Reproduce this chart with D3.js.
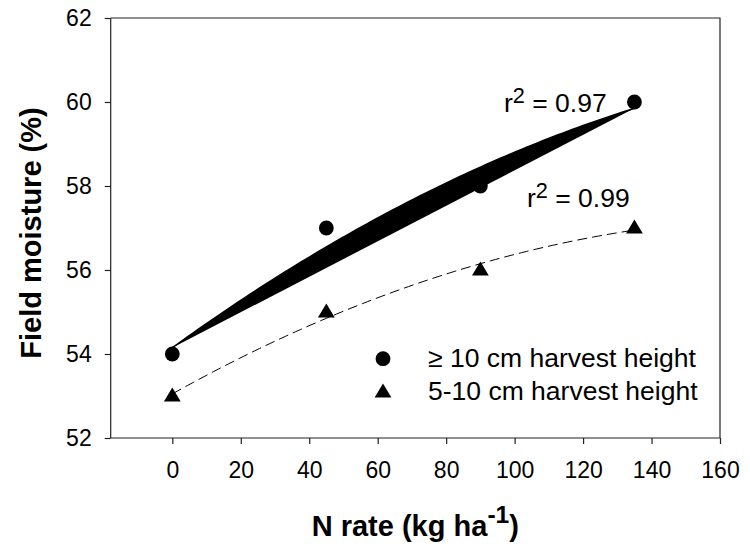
<!DOCTYPE html>
<html>
<head>
<meta charset="utf-8">
<script src="https://cdn.jsdelivr.net/npm/d3@7"></script>
<style>
  html, body { margin: 0; padding: 0; background: #fff; }
  svg { display: block; font-family: "Liberation Sans", Arial, Helvetica, sans-serif; }
</style>
</head>
<body>
<svg id="chart" width="750" height="548"></svg>
<script>
// N application rates (kg ha-1)
const nRate = [0, 45, 90, 135];
// Field moisture (%) for the two harvest heights
const moistureTall = [54, 57, 58, 60];   // >= 10 cm harvest height
const moistureShort = [53, 55, 56, 57];  // 5-10 cm harvest height
const seriesNames = ["10 cm harvest height", "5-10 cm harvest height"];
const r2Values = ["0.97", "0.99"];
const xTicks = [0, 20, 40, 60, 80, 100, 120, 140, 160];
const yTicks = [52, 54, 56, 58, 60, 62];

const svg = d3.select("#chart");
const plotL = 110.7, plotR = 720, plotT = 18, plotB = 438;

const x = d3.scaleLinear().domain([-18, 160]).range([plotL, plotR]);
const y = d3.scaleLinear().domain([52, 62]).range([plotB, plotT]);

// least-squares quadratic y = a + b x + c x^2
function quadFit(xs, ys) {
  const S = k => d3.sum(xs, v => Math.pow(v, k));
  const T = k => d3.sum(xs, (v, i) => Math.pow(v, k) * ys[i]);
  const M = [[S(0), S(1), S(2), T(0)], [S(1), S(2), S(3), T(1)], [S(2), S(3), S(4), T(2)]];
  for (let i = 0; i < 3; i++) {
    for (let j = i + 1; j < 3; j++) {
      const f = M[j][i] / M[i][i];
      for (let k = i; k < 4; k++) M[j][k] -= f * M[i][k];
    }
  }
  const c = M[2][3] / M[2][2];
  const b = (M[1][3] - M[1][2] * c) / M[1][1];
  const a = (M[0][3] - M[0][1] * b - M[0][2] * c) / M[0][0];
  return v => a + b * v + c * v * v;
}
const fitTall = quadFit(nRate, moistureTall);
const fitShort = quadFit(nRate, moistureShort);
const xs = d3.range(0, 135.01, 1.5);

// frame
svg.append("path").attr("d", `M${plotL},${plotT}H${plotR}V${plotB}`)
  .attr("stroke", "#222").attr("stroke-width", 1.2).attr("fill", "none");

// axes
const fontTick = 23;
const xAxis = svg.append("g").attr("transform", `translate(0,${plotB})`)
  .call(d3.axisBottom(x).tickValues(xTicks).tickSize(6).tickPadding(18).tickFormat(d3.format("d")));
const yAxis = svg.append("g").attr("transform", `translate(${plotL},0)`)
  .call(d3.axisLeft(y).tickValues(yTicks).tickSize(6).tickPadding(13).tickFormat(d3.format("d")));
[xAxis, yAxis].forEach(g => {
  g.select(".domain").attr("stroke", "#222").attr("stroke-width", 1.2);
  g.selectAll(".tick line").attr("stroke", "#222").attr("stroke-width", 1.2);
  g.selectAll(".tick text").attr("font-size", fontTick).attr("fill", "#000")
    .attr("font-family", "Liberation Sans, Arial, sans-serif");
});
xAxis.select(".domain").attr("d", `M${plotL},0H${plotR}`);
yAxis.select(".domain").attr("d", `M0,${plotT}V${plotB}`);

// fitted curve for the tall harvest height, drawn as a filled band
const lineGen = d3.line().x(d => x(d));
svg.append("path")
  .attr("d", lineGen.y(d => y(fitTall(d)))(xs))
  .attr("fill", "#000").attr("stroke", "#000").attr("stroke-width", 1.5);

// fitted curve for the short harvest height, dashed
svg.append("path")
  .attr("d", lineGen.y(d => y(fitShort(d)))(xs))
  .attr("fill", "none").attr("stroke", "#000").attr("stroke-width", 1)
  .attr("stroke-dasharray", "10,5");

// markers
const circleR = 7.4;
const triangle = (cx, cy) => {
  const w = 8.4, h = 14;
  return `M${cx},${cy - h * 0.6}L${cx + w},${cy + h * 0.4}L${cx - w},${cy + h * 0.4}Z`;
};
svg.append("g").selectAll("circle").data(nRate).join("circle")
  .attr("cx", d => x(d)).attr("cy", (d, i) => y(moistureTall[i])).attr("r", circleR).attr("fill", "#000");
svg.append("g").selectAll("path").data(nRate).join("path")
  .attr("d", (d, i) => triangle(x(d), y(moistureShort[i]))).attr("fill", "#000");

// r2 labels
const fontNote = 26.5;
function r2Label(xPos, yPos, val) {
  const t = svg.append("text").attr("x", xPos).attr("y", yPos).attr("font-size", fontNote).attr("fill", "#000");
  t.append("tspan").text("r");
  t.append("tspan").attr("dy", -9).attr("font-size", fontNote * 0.82).text("2");
  t.append("tspan").attr("dy", 9).text(" = " + val);
}
r2Label(504, 112, r2Values[0]);
r2Label(527, 207, r2Values[1]);

// legend
const legX = 383, legTextX = 428;
const legRows = [366.7, 400];
svg.append("circle").attr("cx", legX).attr("cy", legRows[0] - 8).attr("r", circleR).attr("fill", "#000");
svg.append("path").attr("d", triangle(legX, legRows[1] - 8)).attr("fill", "#000");
svg.append("text").attr("x", legTextX).attr("y", legRows[0]).attr("font-size", fontNote).attr("fill", "#000")
  .text("\u2265 " + seriesNames[0]);
svg.append("text").attr("x", legTextX).attr("y", legRows[1]).attr("font-size", fontNote).attr("fill", "#000")
  .text(seriesNames[1]);

// axis titles
const fontTitle = 29;
const xt = svg.append("text").attr("x", (plotL + plotR) / 2).attr("y", 536).attr("text-anchor", "middle")
  .attr("font-size", fontTitle).attr("font-weight", "bold").attr("fill", "#000");
xt.append("tspan").text("N rate (kg ha");
xt.append("tspan").attr("dy", -13).attr("font-size", fontTitle * 0.85).text("-1");
xt.append("tspan").attr("dy", 13).text(")");

svg.append("text").attr("transform", `translate(41,${(plotT + plotB) / 2 + 5}) rotate(-90)`)
  .attr("text-anchor", "middle").attr("font-size", fontTitle).attr("font-weight", "bold").attr("fill", "#000")
  .text("Field moisture (%)");
</script>
</body>
</html>
